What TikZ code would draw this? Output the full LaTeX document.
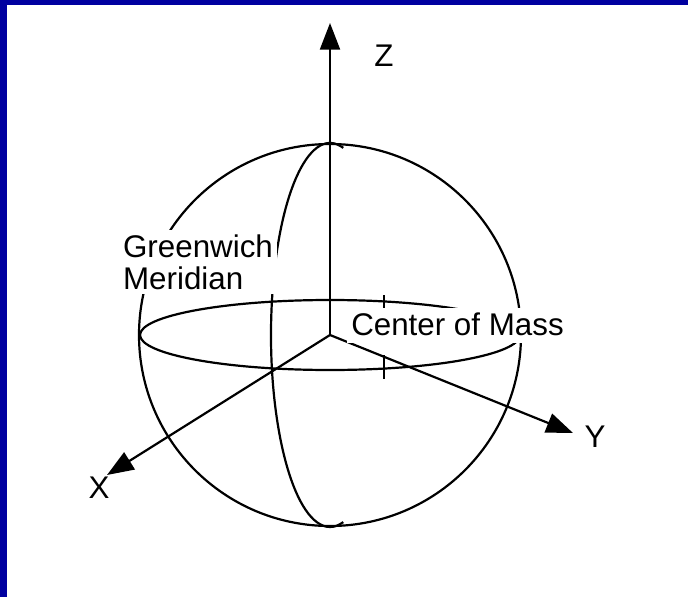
\documentclass[tikz,border=0pt]{standalone}
\usepackage{fontspec}
\setmainfont{Liberation Sans}
\usepackage{tikz}
\usetikzlibrary{arrows.meta}
\definecolor{FrameBlue}{RGB}{0, 0, 160}
\tikzset{
    globe line/.style={line width=1.65pt},
    axis line/.style={line width=1.65pt, -{Triangle[length=20pt, width=15pt]}},
    axis label/.style={font=\fontsize{23.5}{24}\selectfont},
    tag label/.style={fill=white, inner sep=3pt, font=\fontsize{23.5}{24}\selectfont}
}

\begin{document}
\begin{tikzpicture}[x=0.75pt, y=0.75pt]
    \useasboundingbox (0,0) rectangle (688,597);
    % frame
    \fill[FrameBlue] (0,0) rectangle (7,597);
    \fill[FrameBlue] (0,592) rectangle (688,597);

    \coordinate (O) at (330,262);
    \coordinate (Ztip) at (330,574);
    \coordinate (Ytip) at (573,164);
    \coordinate (Xtip) at (107,122);

    % sphere, equator and meridian
    \draw[globe line] (O) circle[radius=143.25pt];
    \draw[globe line] (O) ellipse[x radius=142.5pt, y radius=26.25pt];
    \draw[globe line] (O) ++(77:44.25pt and 144pt)
        arc[start angle=77, end angle=283, x radius=44.25pt, y radius=144pt];
    \draw[globe line] (384,302) -- (384,289);
    \draw[globe line] (384,242) -- (384,218);

    % axes
    \draw[axis line] (O) -- (Ztip);
    \draw[axis line] (O) -- (Ytip);
    \draw[axis line] (O) -- (Xtip);

    \node[axis label] (zlab) at (384,541) {Z};
    \node[axis label] (ylab) at (595,160) {Y};
    \node[axis label] (xlab) at (99,109) {X};

    \node[tag label, anchor=base west, text depth=3pt] (com) at (347,262) {Center of Mass};
    \node[tag label, align=left] (gm) at (198,335) {Greenwich\\Meridian};
\end{tikzpicture}
\end{document}
